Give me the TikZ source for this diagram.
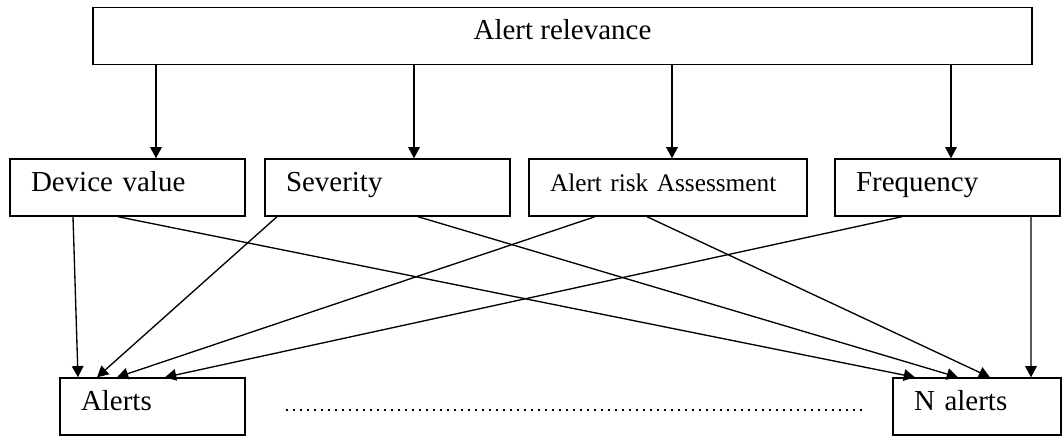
\documentclass[tikz,border=0pt]{standalone}
\usepackage{fontspec}
\setmainfont{Liberation Serif}
\usetikzlibrary{arrows.meta}
\begin{document}
\begin{tikzpicture}[
    box/.style={draw, line width=1pt, inner sep=0pt, minimum height=1.425cm, text height=0.7em, text depth=0.2em, font=\fontsize{20.6}{24}\selectfont},
    lbox/.style={box, align=left, inner xsep=0.525cm},
    link/.style={line width=0.95pt, -{Triangle[length=0.28cm, width=0.29cm]}}
  ]
    \useasboundingbox (0,0) rectangle (26.55,10.9);

    % --- Livello superiore ---
    \node[box, minimum width=23.475cm] (rel) at (14.0625, 10.0) {Alert relevance};

    % --- Criteri ---
    \node[lbox, text width=4.825cm] (dev) at (3.1875, 6.2125) {Device value};
    \node[lbox, text width=5.075cm] (sev) at (9.6875, 6.2125) {Severity};
    \node[lbox, text width=5.9cm, font=\fontsize{18}{22}\selectfont] (risk) at (16.7, 6.2125) {Alert risk Assessment};
    \node[lbox, text width=4.575cm] (freq) at (23.6875, 6.2125) {Frequency};

    % --- Allarmi ---
    \node[lbox, text width=3.575cm] (alerts) at (3.8125, 0.7375) {Alerts};
    \node[lbox, text width=3.15cm] (nalerts) at (24.425, 0.7375) {N alerts};
    \draw[line width=0.06cm, dash pattern=on 0.06cm off 0.115cm] ([xshift=1cm, yshift=-0.0875cm]alerts.east) -- ([xshift=-0.75cm, yshift=-0.0875cm]nalerts.west);

    % Frecce dall'alto
    \draw[link] ([xshift=0.7125cm]dev.north |- rel.south) -- ([xshift=0.7125cm]dev.north);
    \draw[link] ([xshift=0.6625cm]sev.north |- rel.south) -- ([xshift=0.6625cm]sev.north);
    \draw[link] ([xshift=0.1cm]risk.north |- rel.south) -- ([xshift=0.1cm]risk.north);
    \draw[link] ([xshift=0.0875cm]freq.north |- rel.south) -- ([xshift=0.0875cm]freq.north);

    % Frecce verso gli allarmi
    \draw[link] ([xshift=-1.3625cm]dev.south) -- ([xshift=-1.8625cm]alerts.north);
    \draw[link] ([xshift=-0.2375cm]dev.south) -- ([xshift=-1.55cm]nalerts.north);
    \draw[link] ([xshift=-2.7625cm]sev.south) -- ([xshift=-1.3875cm]alerts.north);
    \draw[link] ([xshift=0.7625cm]sev.south) -- ([xshift=-0.475cm]nalerts.north);
    \draw[link] ([xshift=-1.825cm]risk.south) -- ([xshift=-0.8875cm]alerts.north);
    \draw[link] ([xshift=-0.525cm]risk.south) -- ([xshift=0.325cm]nalerts.north);
    \draw[link] ([xshift=-1.1375cm]freq.south) -- ([xshift=0.3125cm]alerts.north);
    \draw[link] ([xshift=2.0875cm]freq.south) -- ([xshift=1.35cm]nalerts.north);
  \end{tikzpicture}
\end{document}
